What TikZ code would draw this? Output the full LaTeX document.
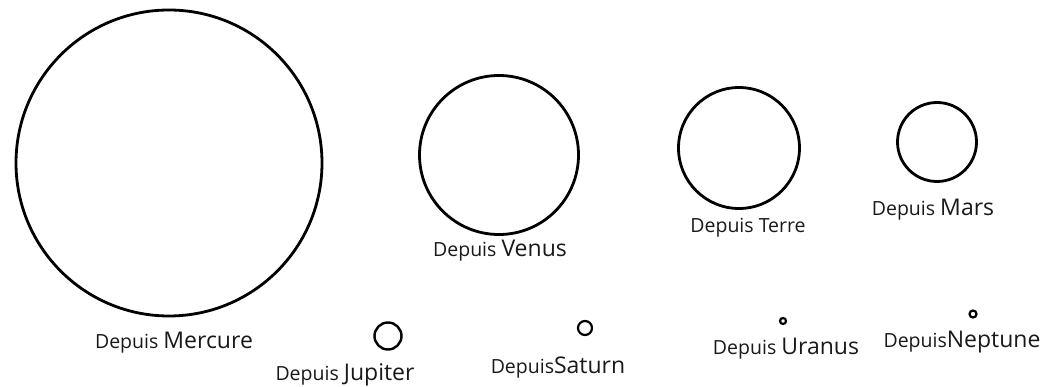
\documentclass[tikz,border=0pt]{standalone}
\usepackage{fontspec}
\setmainfont{Open Sans}
\usepackage{tikz}
\usetikzlibrary{positioning}

\newcommand{\dep}{\fontsize{19.5}{21}\selectfont Depuis}
\newcommand{\pname}[1]{\fontsize{23}{25}\selectfont #1}

\begin{document}
\begin{tikzpicture}[
x=1pt, y=-1pt,
planet/.style={draw, circle, line width=2.8pt, inner sep=0pt, outer sep=0pt},
lbl/.style={inner sep=0pt, anchor=center, text=black!90}
]
\useasboundingbox (0,0) rectangle (1047,387);

% circles
\node[planet, minimum size=306pt] (mercure) at (169,163) {};
\node[planet, minimum size=159pt] (venus) at (499,155) {};
\node[planet, minimum size=121pt] (terre) at (739,148) {};
\node[planet, minimum size=79pt] (mars) at (937,142) {};
\node[planet, minimum size=27pt, line width=2.4pt] (jupiter) at (388,336) {};
\node[planet, minimum size=14pt, line width=2.2pt] (saturne) at (585,328) {};
\node[planet, minimum size=6pt, line width=2.2pt] (uranus) at (783,321) {};
\node[planet, minimum size=7pt, line width=2.2pt] (neptune) at (973,314) {};

% labels
\node[lbl] (lmercure) at (174,343) {\dep\ \pname{Mercure}};
\node[lbl] (lvenus) at (500,251) {\dep\ \pname{Venus}};
\node[lbl] (lterre) at (748,228) {\dep\ \fontsize{19.5}{21}\selectfont Terre};
\node[lbl] (lmars) at (933,210) {\dep\ \pname{Mars}};
\node[lbl] (ljupiter) at (345,375) {\dep\ \pname{Jupiter}};
\node[lbl] (lsaturne) at (558,368) {\dep\pname{Saturn}};
\node[lbl] (luranus) at (786,349) {\dep\ \pname{Uranus}};
\node[lbl] (lneptune) at (962,342) {\dep\pname{Neptune}};

\end{tikzpicture}
\end{document}
